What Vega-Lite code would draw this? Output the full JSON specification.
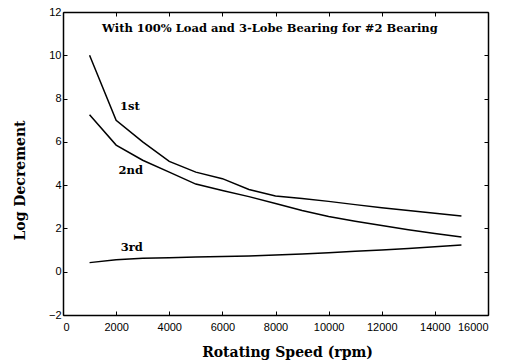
{
  "$schema": "https://vega.github.io/schema/vega-lite/v6.json",
  "autosize": {"type": "none"},
  "padding": {"left": 63, "top": 12, "right": 22, "bottom": 49},
  "width": 425,
  "height": 303,
  "background": "white",
  "config": {
    "view": {"stroke": null},
    "axis": {
      "domainColor": "black", "domainWidth": 1.5, "tickColor": "black", "tickWidth": 1,
      "tickSize": -4, "grid": false, "labelColor": "black", "labelFont": "Liberation Sans",
      "labelFontSize": 11, "titleColor": "black", "titleFont": "DejaVu Serif", "titleFontWeight": "bold",
      "titleFontSize": 14
    }
  },
  "datasets": {
    "curves": [
      {"rpm": 1000, "val": 10.0, "mode": "1st"},
      {"rpm": 2000, "val": 7.0, "mode": "1st"},
      {"rpm": 3000, "val": 6.0, "mode": "1st"},
      {"rpm": 4000, "val": 5.1, "mode": "1st"},
      {"rpm": 5000, "val": 4.6, "mode": "1st"},
      {"rpm": 6000, "val": 4.3, "mode": "1st"},
      {"rpm": 7000, "val": 3.8, "mode": "1st"},
      {"rpm": 8000, "val": 3.5, "mode": "1st"},
      {"rpm": 9000, "val": 3.38, "mode": "1st"},
      {"rpm": 10000, "val": 3.25, "mode": "1st"},
      {"rpm": 11000, "val": 3.1, "mode": "1st"},
      {"rpm": 12000, "val": 2.96, "mode": "1st"},
      {"rpm": 13000, "val": 2.83, "mode": "1st"},
      {"rpm": 14000, "val": 2.7, "mode": "1st"},
      {"rpm": 15000, "val": 2.57, "mode": "1st"},
      {"rpm": 1000, "val": 7.25, "mode": "2nd"},
      {"rpm": 2000, "val": 5.85, "mode": "2nd"},
      {"rpm": 3000, "val": 5.15, "mode": "2nd"},
      {"rpm": 4000, "val": 4.6, "mode": "2nd"},
      {"rpm": 5000, "val": 4.05, "mode": "2nd"},
      {"rpm": 6000, "val": 3.75, "mode": "2nd"},
      {"rpm": 7000, "val": 3.47, "mode": "2nd"},
      {"rpm": 8000, "val": 3.15, "mode": "2nd"},
      {"rpm": 9000, "val": 2.83, "mode": "2nd"},
      {"rpm": 10000, "val": 2.55, "mode": "2nd"},
      {"rpm": 11000, "val": 2.33, "mode": "2nd"},
      {"rpm": 12000, "val": 2.13, "mode": "2nd"},
      {"rpm": 13000, "val": 1.94, "mode": "2nd"},
      {"rpm": 14000, "val": 1.77, "mode": "2nd"},
      {"rpm": 15000, "val": 1.6, "mode": "2nd"},
      {"rpm": 1000, "val": 0.42, "mode": "3rd"},
      {"rpm": 2000, "val": 0.55, "mode": "3rd"},
      {"rpm": 3000, "val": 0.62, "mode": "3rd"},
      {"rpm": 4000, "val": 0.65, "mode": "3rd"},
      {"rpm": 5000, "val": 0.68, "mode": "3rd"},
      {"rpm": 6000, "val": 0.7, "mode": "3rd"},
      {"rpm": 7000, "val": 0.73, "mode": "3rd"},
      {"rpm": 8000, "val": 0.77, "mode": "3rd"},
      {"rpm": 9000, "val": 0.82, "mode": "3rd"},
      {"rpm": 10000, "val": 0.88, "mode": "3rd"},
      {"rpm": 11000, "val": 0.94, "mode": "3rd"},
      {"rpm": 12000, "val": 1.0, "mode": "3rd"},
      {"rpm": 13000, "val": 1.07, "mode": "3rd"},
      {"rpm": 14000, "val": 1.15, "mode": "3rd"},
      {"rpm": 15000, "val": 1.23, "mode": "3rd"}
    ],
    "labels": [
      {"rpm": 2520, "val": 7.6, "text": "1st"},
      {"rpm": 2550, "val": 4.65, "text": "2nd"},
      {"rpm": 2590, "val": 1.09, "text": "3rd"}
    ],
    "heading": [
      {"rpm": 7790, "val": 11.2, "text": "With 100% Load and 3-Lobe Bearing for #2 Bearing"}
    ]
  },
  "resolve": {"axis": {"x": "independent", "y": "independent"}},
  "layer": [
    {
      "data": {"name": "curves"},
      "mark": {"type": "line", "color": "black", "strokeWidth": 1.5},
      "encoding": {
        "x": {"field": "rpm", "type": "quantitative", "scale": {"domain": [0, 16000], "nice": false},
              "axis": {"orient": "bottom", "title": "Rotating Speed (rpm)", "values": [0,2000,4000,6000,8000,10000,12000,14000,16000],
                       "format": "d", "labelPadding": 10, "titleX": 224, "titleY": 37, "titleBaseline": "middle", "titleAnchor": null, "titleAlign": "center"}},
        "y": {"field": "val", "type": "quantitative", "scale": {"domain": [-2, 12], "nice": false},
              "axis": {"orient": "left", "title": "Log Decrement", "values": [-2,0,2,4,6,8,10,12], "format": "d",
                       "labelPadding": 6, "titleX": -43, "titleY": 168, "titleAngle": -90, "titleBaseline": "middle", "titleAlign": "center", "titleAnchor": null}},
        "detail": {"field": "mode"}
      }
    },
    {
      "data": {"name": "labels"},
      "mark": {"type": "text", "font": "DejaVu Serif", "fontWeight": "bold", "fontSize": 11.5, "color": "black"},
      "encoding": {
        "x": {"field": "rpm", "type": "quantitative", "axis": {"orient": "top", "labels": false, "title": null, "values": [0,2000,4000,6000,8000,10000,12000,14000,16000]}},
        "y": {"field": "val", "type": "quantitative", "axis": {"orient": "right", "labels": false, "title": null, "values": [-2,0,2,4,6,8,10,12]}},
        "text": {"field": "text"}
      }
    },
    {
      "data": {"name": "heading"},
      "mark": {"type": "text", "font": "DejaVu Serif", "fontWeight": "bold", "fontSize": 11.5, "color": "black"},
      "encoding": {
        "x": {"field": "rpm", "type": "quantitative", "axis": null},
        "y": {"field": "val", "type": "quantitative", "axis": null},
        "text": {"field": "text"}
      }
    }
  ]
}
